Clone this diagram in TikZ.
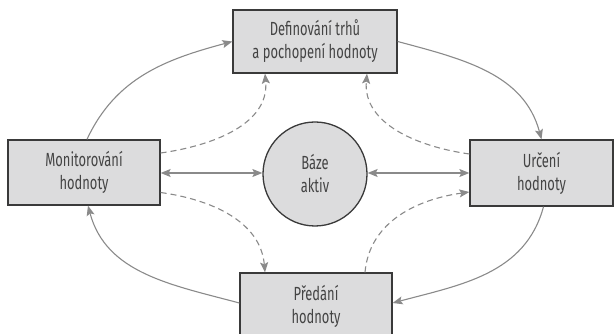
\documentclass[tikz,border=0pt]{standalone}
\usepackage{fontspec}
\setmainfont[FakeStretch=0.68]{Fira Sans}
\usetikzlibrary{arrows.meta}
\definecolor{boxfill}{HTML}{DCDCDD}
\definecolor{boxline}{HTML}{3A3A3A}
\definecolor{arrowgray}{HTML}{8A8A8A}
\definecolor{txt}{HTML}{444444}
\tikzset{
  box/.style={draw=boxline, fill=boxfill, line width=1.3pt, align=center, inner sep=0pt,
    text=txt, font=\fontsize{19}{23}\selectfont},
  hub/.style={circle, draw=boxline, fill=boxfill, line width=1.3pt, align=center, inner sep=0pt,
    text=txt, font=\fontsize{19}{23}\selectfont, minimum size=104pt},
  flow/.style={draw=arrowgray, line width=1.1pt, -{Stealth[length=10pt,width=8pt,inset=2pt]}},
  dflow/.style={flow, dash pattern=on 6pt off 4pt},
  both/.style={draw=arrowgray, line width=1.1pt, {Stealth[length=10pt,width=8pt,inset=2pt]}-{Stealth[length=10pt,width=8pt,inset=2pt]}}
}
\begin{document}
\begin{tikzpicture}[x=1pt,y=1pt]
\useasboundingbox (0,0) rectangle (615,334);
\clip (0,0) rectangle (615,334);
\node[box, minimum width=164pt, minimum height=63pt] (top) at (315,292.5) {Definování trhů\\a pochopení hodnoty};
\node[box, minimum width=152pt, minimum height=65pt] (left) at (84,161.5) {Monitorování\\hodnoty};
\node[box, minimum width=143pt, minimum height=66pt] (right) at (541.5,161) {Určení\\hodnoty};
\node[box, minimum width=152pt, minimum height=66pt] (bottom) at (316,28) {Předání\\hodnoty};
\node[hub] (hub) at (315,160) {Báze\\aktiv};

\draw[flow] ([xshift=3pt]left.north) to[out=65,in=-165] (top.west);
\draw[flow] (top.east) to[out=-15,in=105] (right.north);
\draw[flow] ([xshift=2pt]right.south) to[out=-105,in=15] ([yshift=3pt]bottom.east);
\draw[flow] ([yshift=3pt]bottom.west) to[out=165,in=-75] ([xshift=4pt]left.south);

\draw[dflow] ([yshift=19.5pt]left.east) to[out=8,in=-85] ([xshift=-50pt]top.south);
\draw[dflow] ([yshift=19pt]right.west) to[out=172,in=-95] ([xshift=52pt]top.south);
\draw[dflow] ([yshift=-20pt]left.east) to[out=-8,in=95] ([xshift=-51pt]bottom.north);
\draw[dflow] ([xshift=49pt]bottom.north) to[out=85,in=188] ([yshift=-19pt]right.west);

\draw[both] (left.east |- 0,161) -- (hub.west |- 0,161);
\draw[both] (hub.east |- 0,161) -- (right.west |- 0,161);
\end{tikzpicture}
\end{document}
